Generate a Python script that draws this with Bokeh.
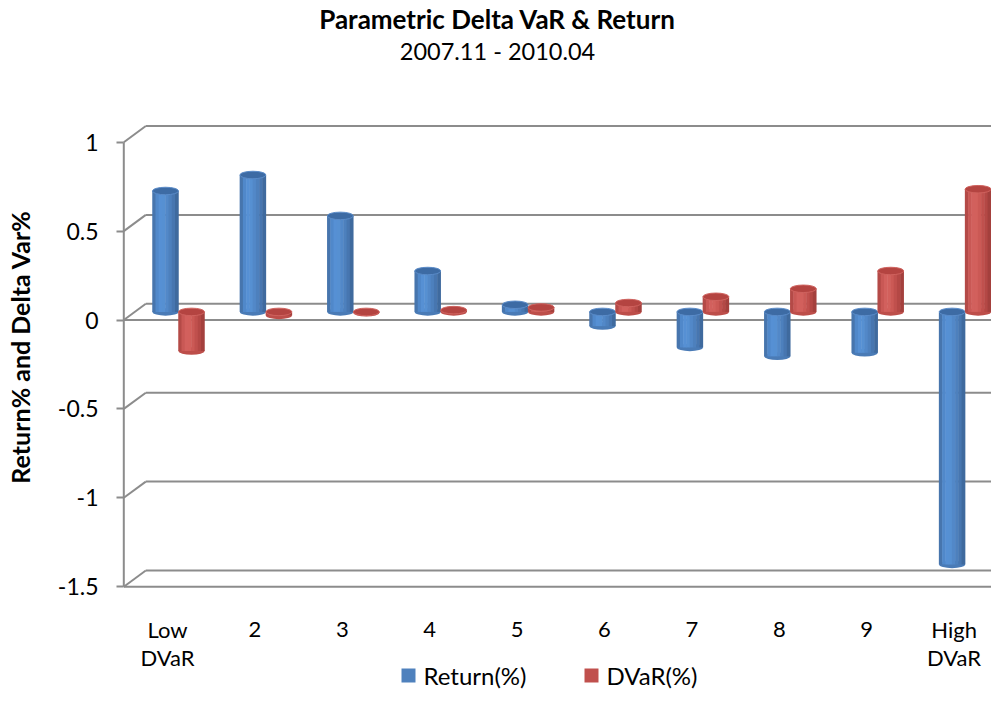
import numpy as np
from bokeh.plotting import figure
from bokeh.models import Range1d, FixedTicker, NumeralTickFormatter, Label
from bokeh.core.properties import value
from bokeh.embed import file_html
from bokeh.resources import INLINE

# ---------------- data ----------------
categories = ["Low\nDVaR", "2", "3", "4", "5", "6", "7", "8", "9", "High\nDVaR"]
return_pct = [0.68, 0.77, 0.54, 0.23, 0.04, -0.08, -0.20, -0.25, -0.23, -1.42]
dvar_pct = [-0.22, -0.02, -0.005, 0.01, 0.025, 0.05, 0.085, 0.13, 0.23, 0.69]
y_ticks = [-1.5, -1.0, -0.5, 0.0, 0.5, 1.0]
series_names = ["Return(%)", "DVaR(%)"]
title_text = "Parametric Delta VaR & Return"
subtitle_text = "2007.11 - 2010.04"
y_label_text = "Return% and Delta Var%"

# ---------------- geometry (pixels) ----------------
W, H = 991, 693
PX_X = 87.4     # pixels per category
PX_Y = 177.8    # pixels per y unit
LEFT = 120
FRONT_X0 = 3.3          # px from frame left to front axis
ZERO_Y = 319.5          # canvas y of front zero line

x_start = -FRONT_X0 / PX_X
x_end = x_start + (W - LEFT) / PX_X
y_end = ZERO_Y / PX_Y
y_start = -(H - ZERO_Y) / PX_Y

def y_of(py):
    return (ZERO_Y - py) / PX_Y

def x_of(px):
    return x_start + (px - LEFT) / PX_X

DX = 22 / PX_X      # depth offset (x)
DY = 16.2 / PX_Y    # depth offset (y)
BW = 26 / PX_X      # cylinder width
CAP = 7.5 / PX_Y    # ellipse height
FONT = "Lato"
GRID = "#8c8c8c"

p = figure(width=W, height=H, output_backend="svg", toolbar_location=None,
           tools="", x_range=Range1d(x_start, x_end),
           y_range=Range1d(y_start, y_end), x_axis_location=None,
           min_border_left=LEFT, min_border_right=0,
           min_border_top=0, min_border_bottom=0)
p.outline_line_color = None
p.grid.visible = False
p.background_fill_color = "white"
p.border_fill_color = "white"

n = len(categories)
ymin, ymax = min(y_ticks), max(y_ticks)

# back wall gridlines
p.segment(x0=[DX] * len(y_ticks), y0=[t + DY for t in y_ticks],
          x1=[x_end] * len(y_ticks), y1=[t + DY for t in y_ticks],
          line_color=GRID, line_width=2)
# side diagonals
p.segment(x0=[0] * len(y_ticks), y0=y_ticks,
          x1=[DX] * len(y_ticks), y1=[t + DY for t in y_ticks],
          line_color=GRID, line_width=2)
# front floor lines (0 and minimum)
p.segment(x0=[0, 0], y0=[0, ymin], x1=[n, n], y1=[0, ymin],
          line_color=GRID, line_width=2)
p.segment(x0=[n], y0=[ymin], x1=[n + DX], y1=[ymin + DY],
          line_color=GRID, line_width=2)
# front vertical axis
p.segment(x0=[0], y0=[ymin], x1=[0], y1=[ymax], line_color=GRID, line_width=2)

# ---------------- cylinders ----------------
cx = np.arange(n) + 0.5
offsets = [DX / 2 - BW / 2, DX / 2 + BW / 2]
palettes = [
    dict(strips=["#4775ad", "#5088ca", "#5690d4", "#5690d2", "#5288c8",
                 "#4d80bd", "#4776b0", "#3f6a9e"],
         base="#4a7bb6", cap="#3d6ba4", cap_edge="#5a8bc8", legend="#4f81bd"),
    dict(strips=["#b44a47", "#c95855", "#d2605d", "#d2605c", "#cb5955",
                 "#c0504d", "#b44845", "#a4403d"],
         base="#bd4e4a", cap="#b44441", cap_edge="#cf625e", legend="#c0504d"),
]
K = 8
for vals, off, pal in zip([return_pct, dvar_pct], offsets, palettes):
    v = np.array(vals)
    xc = cx + off
    top = np.maximum(v, 0) + DY / 2
    bot = np.minimum(v, 0) + DY / 2
    p.ellipse(x=xc, y=bot, width=BW, height=CAP, fill_color=pal["base"],
              line_color=None)
    sw = BW / K
    xs, tops, bots, cols = [], [], [], []
    for k in range(K):
        xs.extend(xc - BW / 2 + (k + 0.5) * sw)
        tops.extend(top)
        bots.extend(bot)
        cols.extend([pal["strips"][k]] * n)
    p.vbar(x=xs, top=tops, bottom=bots, width=sw * 1.15, fill_color=cols,
           line_color=None)
    p.ellipse(x=xc, y=top, width=BW, height=CAP, fill_color=pal["cap"],
              line_color=pal["cap_edge"], line_width=1)

# ---------------- category labels (two lines) ----------------
first = [c.split("\n")[0] for c in categories]
second_x = [x for x, c in zip(cx, categories) if "\n" in c]
second = [c.split("\n")[1] for c in categories if "\n" in c]
p.text(x=cx, y=[y_of(629)] * n, text=first, text_font=value(FONT),
       text_font_size=value("22px"), text_align="center",
       text_baseline="middle", text_color="black")
p.text(x=second_x, y=[y_of(657)] * len(second), text=second,
       text_font=value(FONT), text_font_size=value("22px"),
       text_align="center", text_baseline="middle", text_color="black")

# ---------------- y axis ----------------
p.yaxis.ticker = FixedTicker(ticks=y_ticks)
p.yaxis.formatter = NumeralTickFormatter(format="0.[0]")
p.yaxis.axis_line_color = None
p.yaxis.major_tick_in = 3
p.yaxis.major_tick_out = 4
p.yaxis.major_tick_line_color = GRID
p.yaxis.major_tick_line_width = 2
p.yaxis.minor_tick_line_color = None
p.yaxis.major_label_standoff = 18
p.yaxis.major_label_text_font = FONT
p.yaxis.major_label_text_font_size = "23px"
p.yaxis.major_label_text_color = "black"
p.yaxis.axis_label = y_label_text
p.yaxis.axis_label_standoff = 20
p.yaxis.axis_label_text_font = FONT
p.yaxis.axis_label_text_font_style = "bold"
p.yaxis.axis_label_text_font_size = "25px"
p.yaxis.axis_label_text_color = "black"

# ---------------- titles (inside frame, screen units) ----------------
p.add_layout(Label(x=497 - LEFT, y=H - 18, x_units="screen", y_units="screen",
                   text=title_text, text_align="center", text_baseline="middle",
                   text_font=FONT, text_font_style="bold", text_font_size="26px",
                   text_color="black"))
p.add_layout(Label(x=497 - LEFT, y=H - 50, x_units="screen", y_units="screen",
                   text=subtitle_text, text_align="center",
                   text_baseline="middle", text_font=FONT,
                   text_font_size="23.5px", text_color="black"))

# ---------------- legend (square swatches + labels) ----------------
LEG_Y = 675
swatch_px = [408, 591]
text_px = [423, 606]
p.scatter(x=[x_of(px) for px in swatch_px], y=[y_of(LEG_Y)] * 2,
          marker="square", size=14,
          fill_color=[pal["legend"] for pal in palettes], line_color=None)
for name, tx in zip(series_names, text_px):
    p.add_layout(Label(x=tx - LEFT, y=H - LEG_Y, x_units="screen",
                       y_units="screen", text=name, text_align="left",
                       text_baseline="middle", text_font=FONT,
                       text_font_size="24px", text_color="black"))

open("out.html", "w").write(file_html(p, INLINE))
